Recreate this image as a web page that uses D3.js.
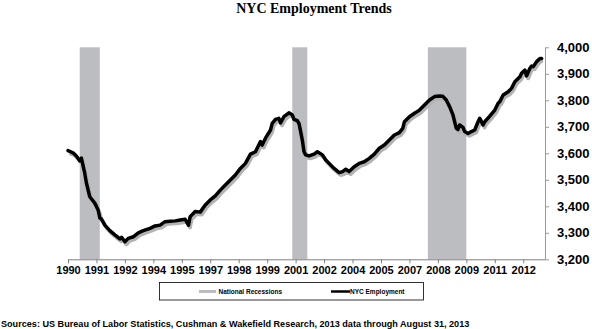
<!DOCTYPE html>
<html>
<head>
<meta charset="utf-8">
<script src="https://cdn.jsdelivr.net/npm/d3@7"></script>
<style>
  html, body { margin: 0; padding: 0; background: #fff; }
  svg { display: block; }
</style>
</head>
<body>
<svg id="chart" width="592" height="329"></svg>
<script>
// NYC total nonfarm employment (thousands), monthly readings
const months = [
  "1990-01","1990-04","1990-06","1990-08","1990-09","1990-11","1990-12","1991-02","1991-05","1991-07",
  "1991-08","1991-09","1991-11","1992-02","1992-05","1992-08","1992-09","1992-11","1993-01","1993-04",
  "1993-07","1993-10","1994-02","1994-05","1994-08","1994-11","1995-02","1995-05","1995-08","1995-11",
  "1996-01","1996-02","1996-05","1996-08","1996-11","1997-02","1997-05","1997-08","1997-11","1998-02",
  "1998-05","1998-08","1998-11","1999-02","1999-05","1999-06","1999-08","1999-09","1999-11","2000-02",
  "2000-03","2000-05","2000-07","2000-08","2000-10","2001-01","2001-03","2001-04","2001-06","2001-07",
  "2001-08","2001-09","2001-10","2001-11","2002-01","2002-04","2002-06","2002-09","2002-11","2003-01",
  "2003-04","2003-07","2003-09","2003-11","2004-01","2004-04","2004-07","2004-10","2005-01","2005-04",
  "2005-07","2005-10","2006-01","2006-04","2006-07","2006-09","2006-10","2007-01","2007-04","2007-07",
  "2007-10","2008-01","2008-04","2008-07","2008-09","2008-11","2009-01","2009-03","2009-04","2009-05",
  "2009-06","2009-07","2009-09","2009-10","2009-12","2010-02","2010-04","2010-06","2010-07","2010-09",
  "2010-10","2011-01","2011-04","2011-06","2011-07","2011-09","2011-12","2012-02","2012-04","2012-07",
  "2012-08","2012-10","2012-11","2013-01","2013-02","2013-03","2013-05","2013-07","2013-08"
];
const employment = [
  3610,3602,3590,3572,3582,3525,3488,3436,3412,3386,
  3356,3352,3329,3308,3292,3277,3283,3266,3279,3285,
  3300,3308,3317,3326,3329,3342,3344,3345,3348,3351,
  3329,3361,3380,3378,3405,3424,3439,3461,3480,3499,
  3518,3543,3562,3597,3606,3619,3644,3631,3657,3688,
  3713,3728,3732,3715,3738,3753,3745,3728,3723,3713,
  3682,3650,3606,3594,3590,3597,3606,3594,3575,3562,
  3543,3527,3531,3540,3531,3549,3562,3568,3581,3597,
  3619,3631,3650,3669,3678,3694,3719,3738,3751,3763,
  3782,3801,3814,3816,3815,3801,3776,3745,3719,3694,
  3690,3707,3698,3682,3675,3682,3688,3719,3732,3707,
  3719,3740,3763,3789,3795,3820,3832,3845,3870,3889,
  3902,3914,3892,3921,3929,3927,3946,3958,3958
];

// National recession shading: [first month, month after last]
const recessions = [
  ["1990-08", "1991-08"],
  ["2001-03", "2001-12"],
  ["2007-12", "2009-11"]
];

// Category axis: a tick every 17 months
const xTickMonths = [
  "1990-01","1991-06","1992-11","1994-04","1995-09","1997-02","1998-07","1999-12","2001-05",
  "2002-10","2004-03","2005-08","2007-01","2008-06","2009-11","2011-04","2012-09"
];
const yTicks = [3200, 3300, 3400, 3500, 3600, 3700, 3800, 3900, 4000];

const title = "NYC Employment Trends";
const legendItems = ["National Recessions", "NYC Employment"];
const source = "Sources: US Bureau of Labor Statistics, Cushman & Wakefield Research, 2013 data through August 31, 2013";

// month string -> index from Jan 1990
const mIdx = s => { const [y, m] = s.split("-").map(Number); return (y - 1990) * 12 + (m - 1); };

const svg = d3.select("#chart");
const plot = { left: 68, right: 545, top: 47.3, bottom: 259.3 };

const x = d3.scaleLinear().domain([0, 285]).range([plot.left, plot.right]);
const y = d3.scaleLinear().domain([3200, 4000]).range([plot.bottom, plot.top]);

const sans = "'Liberation Sans', Arial, Helvetica, sans-serif";

// Title
svg.append("text")
  .attr("x", 314).attr("y", 12.5)
  .attr("text-anchor", "middle")
  .style("font-family", "'Liberation Serif', 'Times New Roman', serif")
  .style("font-weight", "bold")
  .style("font-size", "14px")
  .text(title);

// Recession bars
svg.append("g").selectAll("rect")
  .data(recessions)
  .join("rect")
  .attr("x", d => x(mIdx(d[0])))
  .attr("width", d => x(mIdx(d[1])) - x(mIdx(d[0])))
  .attr("y", y(4000))
  .attr("height", y(3200) - y(4000))
  .attr("fill", "#bcbdc1");

// Employment line with a soft drop shadow
const series = months.map((m, i) => ({ m: mIdx(m), v: employment[i] }));
const line = d3.line().x(d => x(d.m)).y(d => y(d.v));

svg.append("path")
  .datum(series)
  .attr("d", line)
  .attr("transform", "translate(1.5,2.5)")
  .attr("fill", "none")
  .attr("stroke", "#b3b3b3")
  .attr("stroke-width", 3.8)
  .attr("stroke-linejoin", "round");

svg.append("path")
  .datum(series)
  .attr("d", line)
  .attr("fill", "none")
  .attr("stroke", "#000")
  .attr("stroke-width", 3.5)
  .attr("stroke-linejoin", "round")
  .attr("stroke-linecap", "round");

// X axis
const xAxis = d3.axisBottom(x)
  .tickValues(xTickMonths.map(mIdx))
  .tickFormat(i => xTickMonths[xTickMonths.map(mIdx).indexOf(i)].slice(0, 4))
  .tickSizeInner(4).tickSizeOuter(0).tickPadding(3);

const gx = svg.append("g")
  .attr("transform", `translate(0,${plot.bottom})`)
  .call(xAxis);
gx.select(".domain").attr("stroke", "#7f7f7f");
gx.selectAll(".tick line").attr("stroke", "#7f7f7f");
gx.selectAll(".tick text")
  .attr("fill", "#000")
  .style("font-family", sans)
  .style("font-weight", "bold")
  .style("font-size", "11px");

// Y axis on the right
const yAxis = d3.axisRight(y)
  .tickValues(yTicks)
  .tickFormat(d3.format(","))
  .tickSizeInner(4).tickSizeOuter(0).tickPadding(8);

const gy = svg.append("g")
  .attr("transform", `translate(${plot.right},0)`)
  .call(yAxis);
gy.select(".domain").attr("stroke", "#9a9a9a");
gy.selectAll(".tick line").attr("stroke", "#9a9a9a");
gy.selectAll(".tick text")
  .attr("fill", "#000")
  .style("font-family", sans)
  .style("font-weight", "bold")
  .style("font-size", "13px");

// Legend
const lg = svg.append("g");
lg.append("rect")
  .attr("x", 159.5).attr("y", 282.5)
  .attr("width", 264).attr("height", 17.5)
  .attr("fill", "#fff")
  .attr("stroke", "#000").attr("stroke-width", 0.8);

lg.append("line")
  .attr("x1", 199).attr("x2", 216).attr("y1", 291.5).attr("y2", 291.5)
  .attr("stroke", "#bcbdc1").attr("stroke-width", 3);
lg.append("text")
  .attr("x", 218.5).attr("y", 293.8)
  .style("font-family", sans).style("font-weight", "bold").style("font-size", "6.5px")
  .text(legendItems[0]);

lg.append("line")
  .attr("x1", 331).attr("x2", 350).attr("y1", 291.5).attr("y2", 291.5)
  .attr("stroke", "#000").attr("stroke-width", 2.5);
lg.append("text")
  .attr("x", 350).attr("y", 293.8)
  .style("font-family", sans).style("font-weight", "bold").style("font-size", "6.5px")
  .text(legendItems[1]);

// Source note
svg.append("text")
  .attr("x", 1).attr("y", 326.5)
  .style("font-family", sans)
  .style("font-weight", "bold")
  .style("font-size", "9.1px")
  .text(source);
</script>
</body>
</html>
